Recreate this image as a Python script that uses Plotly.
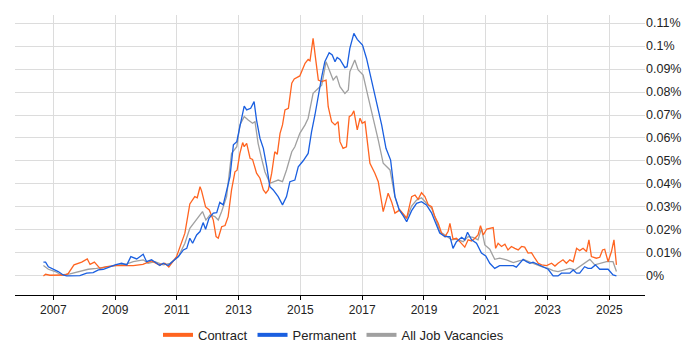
import plotly.graph_objects as go

# Decimal-year positions and values (in %)
contract_x = [2006.68, 2006.75, 2006.89, 2007.38, 2007.48, 2007.67, 2007.92, 2008.10, 2008.19, 2008.33,
              2008.51, 2008.73, 2009.00, 2009.21, 2009.59, 2009.90, 2010.06, 2010.18, 2010.42, 2010.61,
              2010.74, 2010.99, 2011.26, 2011.42, 2011.58, 2011.66, 2011.75, 2011.80, 2011.93, 2012.05,
              2012.18, 2012.27, 2012.34, 2012.45, 2012.56, 2012.66, 2012.77, 2012.88, 2012.95, 2013.04,
              2013.13, 2013.18, 2013.26, 2013.37, 2013.45, 2013.58, 2013.69, 2013.80, 2013.88, 2013.96,
              2014.07, 2014.17, 2014.25, 2014.34, 2014.42, 2014.50, 2014.61, 2014.72, 2014.80, 2014.98,
              2015.15, 2015.25, 2015.31, 2015.41, 2015.49, 2015.58, 2015.69, 2015.83, 2015.90, 2016.01,
              2016.12, 2016.22, 2016.28, 2016.38, 2016.49, 2016.58, 2016.66, 2016.73, 2016.84, 2016.93,
              2017.00, 2017.09, 2017.25, 2017.41, 2017.52, 2017.65, 2017.68, 2017.84, 2017.95, 2018.06,
              2018.22, 2018.44, 2018.60, 2018.71, 2018.81, 2018.92, 2019.03, 2019.14, 2019.25, 2019.35,
              2019.46, 2019.57, 2019.68, 2019.78, 2019.84, 2019.94, 2020.05, 2020.16, 2020.32, 2020.43,
              2020.54, 2020.65, 2020.75, 2020.83, 2020.92, 2021.03, 2021.13, 2021.24, 2021.32, 2021.40,
              2021.51, 2021.62, 2021.72, 2021.83, 2021.94, 2022.05, 2022.16, 2022.26, 2022.37, 2022.48,
              2022.59, 2022.70, 2022.81, 2022.97, 2023.13, 2023.24, 2023.34, 2023.50, 2023.61, 2023.72,
              2023.83, 2023.94, 2024.04, 2024.15, 2024.26, 2024.34, 2024.42, 2024.58, 2024.69, 2024.78,
              2024.85, 2024.96, 2025.07, 2025.15, 2025.23]
contract_y = [0.0, 0.0007, 0.0003, 0.0004, 0.001, 0.0048, 0.006, 0.0074, 0.005, 0.006,
              0.0033, 0.004, 0.0045, 0.0045, 0.0045, 0.005, 0.006, 0.0065, 0.0048, 0.0055,
              0.0039, 0.0084, 0.0186, 0.0313, 0.0345, 0.034, 0.0388, 0.037, 0.030, 0.0287,
              0.0243, 0.0171, 0.0164, 0.0214, 0.0219, 0.0258, 0.0374, 0.0453, 0.046, 0.0533,
              0.058, 0.0562, 0.0577, 0.0512, 0.0507, 0.0447, 0.0425, 0.0374, 0.036, 0.0374,
              0.0447, 0.054, 0.0529, 0.062, 0.0657, 0.0722, 0.0729, 0.0838, 0.0857, 0.087,
              0.0925, 0.0942, 0.0936, 0.1033, 0.0946, 0.0852, 0.0845, 0.0852, 0.0736, 0.0671,
              0.0657, 0.0671, 0.0584, 0.0555, 0.0562, 0.0693, 0.070, 0.0718, 0.0635, 0.0686,
              0.0664, 0.0671, 0.049, 0.0447, 0.041, 0.0301, 0.028, 0.036, 0.0323, 0.0273,
              0.0287, 0.0251, 0.0345, 0.0352, 0.0333, 0.0362, 0.0345, 0.0309, 0.0301, 0.0258,
              0.0229, 0.0186, 0.0171, 0.0193, 0.0229, 0.016, 0.0164, 0.0149, 0.0125, 0.0157,
              0.0152, 0.0164, 0.0178, 0.0219, 0.0178, 0.0204, 0.0207, 0.021, 0.012, 0.0142,
              0.0128, 0.0138, 0.0113, 0.0128, 0.012, 0.0113, 0.0128, 0.0125, 0.0099, 0.0101,
              0.0077, 0.0055, 0.0048, 0.0045, 0.0055, 0.0043, 0.0055, 0.007, 0.0055, 0.007,
              0.0062, 0.012, 0.011, 0.012, 0.0106, 0.0157, 0.0084, 0.0077, 0.0081, 0.0113,
              0.0116, 0.0062, 0.0106, 0.0157, 0.0048]

permanent_x = [2006.68, 2006.75, 2006.84, 2007.00, 2007.16, 2007.32, 2007.43, 2007.86, 2008.08, 2008.29,
               2008.46, 2008.62, 2008.83, 2009.00, 2009.21, 2009.38, 2009.51, 2009.70, 2009.91, 2010.02,
               2010.18, 2010.35, 2010.45, 2010.56, 2010.72, 2010.88, 2011.05, 2011.21, 2011.32, 2011.42,
               2011.51, 2011.64, 2011.75, 2011.85, 2011.93, 2012.04, 2012.18, 2012.29, 2012.39, 2012.50,
               2012.61, 2012.72, 2012.83, 2012.94, 2013.04, 2013.18, 2013.26, 2013.39, 2013.50, 2013.58,
               2013.69, 2013.80, 2013.91, 2014.01, 2014.12, 2014.28, 2014.42, 2014.55, 2014.66, 2014.82,
               2014.93, 2015.09, 2015.25, 2015.36, 2015.47, 2015.58, 2015.69, 2015.79, 2015.93, 2016.03,
               2016.12, 2016.19, 2016.28, 2016.44, 2016.51, 2016.60, 2016.73, 2016.84, 2017.01, 2017.14,
               2017.30, 2017.47, 2017.63, 2017.77, 2017.92, 2018.06, 2018.20, 2018.33, 2018.44, 2018.60,
               2018.76, 2018.92, 2019.08, 2019.25, 2019.39, 2019.51, 2019.68, 2019.84, 2019.94, 2020.05,
               2020.22, 2020.32, 2020.41, 2020.54, 2020.70, 2020.86, 2021.00, 2021.13, 2021.29, 2021.45,
               2021.67, 2021.89, 2021.99, 2022.10, 2022.21, 2022.32, 2022.43, 2022.53, 2022.70, 2022.86,
               2023.02, 2023.18, 2023.34, 2023.45, 2023.72, 2023.83, 2023.94, 2024.04, 2024.20, 2024.31,
               2024.42, 2024.55, 2024.69, 2024.85, 2024.96, 2025.12, 2025.23]
permanent_y = [0.006, 0.006, 0.004, 0.0029, 0.0019, 0.0004, 0.0, 0.0001, 0.0012, 0.0014,
               0.0026, 0.0029, 0.004, 0.0048, 0.0055, 0.0048, 0.0084, 0.0074, 0.0094, 0.0062,
               0.007, 0.0055, 0.0045, 0.0055, 0.0045, 0.0065, 0.0084, 0.0113, 0.012, 0.0164,
               0.0142, 0.0178, 0.0193, 0.0232, 0.0203, 0.0251, 0.0273, 0.0275, 0.032, 0.0309,
               0.0374, 0.0432, 0.057, 0.0584, 0.0649, 0.0739, 0.0722, 0.0729, 0.0758, 0.0678,
               0.0599, 0.0555, 0.0475, 0.0388, 0.0374, 0.0345, 0.0309, 0.0345, 0.041, 0.0417,
               0.0475, 0.0501, 0.0533, 0.0627, 0.070, 0.0787, 0.0867, 0.0932, 0.0971, 0.0961,
               0.0932, 0.095, 0.0942, 0.0906, 0.091, 0.099, 0.1055, 0.1029, 0.1004, 0.0946,
               0.0852, 0.0765, 0.0657, 0.0555, 0.0504, 0.0345, 0.0287, 0.0261, 0.0236, 0.0284,
               0.0316, 0.0323, 0.0309, 0.0273, 0.0229, 0.0186, 0.0171, 0.0171, 0.012, 0.0149,
               0.0168, 0.0157, 0.019, 0.0157, 0.0142, 0.0099, 0.0087, 0.0055, 0.0033, 0.0045,
               0.0045, 0.0045, 0.0038, 0.0055, 0.0072, 0.0062, 0.0055, 0.006, 0.0048, 0.004,
               0.0029, 0.0, 0.0, 0.0012, 0.0012, 0.0026, 0.0012, 0.0012, 0.004, 0.0033,
               0.0033, 0.0048, 0.0029, 0.0029, 0.0029, 0.0004, 0.0]

all_x = [2006.68, 2006.84, 2007.06, 2007.27, 2007.54, 2007.86, 2008.13, 2008.40, 2008.73, 2009.05,
         2009.38, 2009.59, 2009.91, 2010.07, 2010.29, 2010.56, 2010.78, 2011.05, 2011.26, 2011.42,
         2011.58, 2011.72, 2011.83, 2011.94, 2012.07, 2012.23, 2012.34, 2012.45, 2012.61, 2012.77,
         2012.94, 2013.04, 2013.18, 2013.31, 2013.45, 2013.53, 2013.63, 2013.74, 2013.85, 2014.01,
         2014.12, 2014.28, 2014.42, 2014.55, 2014.72, 2014.82, 2014.98, 2015.15, 2015.25, 2015.41,
         2015.58, 2015.69, 2015.83, 2015.95, 2016.06, 2016.17, 2016.28, 2016.44, 2016.55, 2016.60,
         2016.76, 2016.87, 2017.03, 2017.19, 2017.36, 2017.52, 2017.68, 2017.90, 2018.06, 2018.20,
         2018.44, 2018.60, 2018.76, 2018.92, 2019.08, 2019.25, 2019.39, 2019.51, 2019.73, 2019.89,
         2020.05, 2020.27, 2020.43, 2020.59, 2020.75, 2020.86, 2020.97, 2021.13, 2021.29, 2021.45,
         2021.67, 2021.89, 2022.10, 2022.26, 2022.43, 2022.59, 2022.81, 2023.02, 2023.18, 2023.34,
         2023.56, 2023.72, 2023.88, 2024.04, 2024.20, 2024.37, 2024.53, 2024.69, 2024.91, 2025.12,
         2025.23]
all_y = [0.0045, 0.0029, 0.0019, 0.0004, 0.0009, 0.0019, 0.0029, 0.0033, 0.004, 0.0048,
         0.0052, 0.0062, 0.007, 0.0055, 0.0062, 0.0048, 0.0055, 0.0084, 0.0142, 0.0207,
         0.0236, 0.0258, 0.028, 0.0243, 0.0265, 0.0258, 0.0243, 0.028, 0.0345, 0.0533,
         0.0562, 0.0657, 0.0693, 0.0678, 0.0664, 0.0671, 0.0577, 0.0512, 0.0453, 0.0403,
         0.041, 0.0417, 0.041, 0.0461, 0.054, 0.0562, 0.062, 0.0657, 0.0686, 0.0794,
         0.0816, 0.083, 0.0932, 0.0888, 0.0852, 0.087, 0.0823, 0.0794, 0.0809, 0.0888,
         0.0939, 0.0896, 0.0874, 0.078, 0.0686, 0.0591, 0.049, 0.0461, 0.0345, 0.0287,
         0.0251, 0.0304, 0.033, 0.034, 0.0316, 0.0294, 0.0243, 0.0193, 0.0174, 0.0157,
         0.016, 0.0149, 0.0171, 0.0168, 0.0157, 0.0207, 0.0135, 0.0116, 0.0072, 0.0077,
         0.007, 0.0058, 0.0067, 0.007, 0.006, 0.0052, 0.004, 0.0033, 0.0023, 0.0019,
         0.0026, 0.0033, 0.0026, 0.004, 0.0055, 0.0072, 0.0048, 0.0055, 0.0062, 0.0062,
         0.0019]

x_ticks = [2007, 2009, 2011, 2013, 2015, 2017, 2019, 2021, 2023, 2025]
y_ticks = [0, 0.01, 0.02, 0.03, 0.04, 0.05, 0.06, 0.07, 0.08, 0.09, 0.1, 0.11]
y_tick_labels = ["0%", "0.01%", "0.02%", "0.03%", "0.04%", "0.05%", "0.06%",
                 "0.07%", "0.08%", "0.09%", "0.1%", "0.11%"]

series = [
    ("Contract", contract_x, contract_y, "#ff6420"),
    ("Permanent", permanent_x, permanent_y, "#1a5fe0"),
    ("All Job Vacancies", all_x, all_y, "#a0a0a0"),
]

fig = go.Figure()
# draw gray first (behind), then orange, then blue
for name, xs, ys, col in [series[2], series[0], series[1]]:
    fig.add_trace(go.Scatter(x=xs, y=ys, mode="lines", name=name,
                             line=dict(color=col, width=1.3), showlegend=False,
                             hoverinfo="skip"))
for name, xs, ys, col in series:
    fig.add_trace(go.Scatter(x=[None], y=[None], mode="lines", name=name,
                             line=dict(color=col, width=4)))

fig.update_layout(
    width=700, height=350,
    margin=dict(l=7, r=63, t=7, b=63, autoexpand=False),
    paper_bgcolor="white", plot_bgcolor="white",
    font=dict(family="Liberation Sans, Arial, sans-serif", size=12, color="#222"),
    legend=dict(orientation="h", x=0.465, xanchor="center", xref="container",
                y=0.066, yanchor="middle", yref="container",
                font=dict(size=13, color="#222"), itemwidth=30, traceorder="normal"),
    xaxis=dict(range=[2005.76, 2026.155], tickmode="array", tickvals=x_ticks,
               ticktext=[str(t) for t in x_ticks], showgrid=True, gridcolor="#dcdcdc",
               gridwidth=1, showline=True, linecolor="#000", linewidth=1,
               ticks="outside", ticklen=4, tickcolor="#000", zeroline=False,
               automargin=False, tickfont=dict(size=12, color="#222")),
    yaxis=dict(range=[-0.0083, 0.1135], side="right", tickmode="array",
               tickvals=y_ticks, ticktext=y_tick_labels, showgrid=True,
               gridcolor="#dcdcdc", gridwidth=1, zeroline=False, showline=False,
               ticks="", automargin=False, tickfont=dict(size=12.5, color="#222")),
)

fig.write_html("out.html")
